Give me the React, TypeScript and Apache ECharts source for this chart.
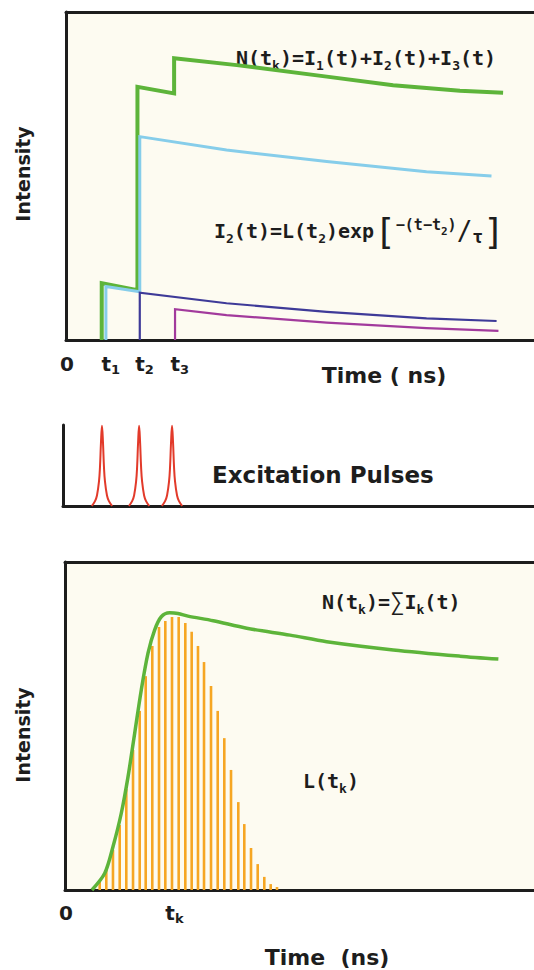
import React, { useEffect, useRef } from "react";
import * as echarts from "echarts";

// ---------------- data (time in arbitrary ns units, intensity 0-100) ----------------
// Top panel: step excitations and decays
const greenTopX = [7.7, 7.7, 15.4, 15.4, 23.3, 23.3, 36.8, 56.2, 70.5, 84.9, 94.2];
const greenTopY = [0, 17.3, 15.2, 77.2, 75.2, 85.9, 83.8, 80.3, 77.7, 76.0, 75.4];
const cyanX = [8.6, 8.6, 15.9, 15.9, 34.6, 56.2, 77.7, 91.7];
const cyanY = [0, 16.3, 14.7, 62.0, 57.9, 54.4, 51.3, 50.0];
const blueX = [15.9, 15.9, 34.6, 56.2, 77.7, 92.8];
const blueY = [0, 14.4, 11.2, 8.6, 6.6, 5.8];
const purpleX = [23.5, 23.5, 34.6, 56.2, 77.7, 93.2];
const purpleY = [0, 9.4, 7.6, 5.3, 3.6, 2.8];

// Tick labels of the top panel (base, subscript) and their times
const topTickLabels: [string, string][] = [["0", ""], ["t", "1"], ["t", "2"], ["t", "3"]];
const topTickTimes = [0, 8.6, 15.9, 23.5];

// Middle panel: excitation pulses (centres) and the pulse profile
const pulseCentres = [8.4, 16.4, 23.5];
const pulseOffsets = [-2.2, -1.5, -1.08, -0.65, -0.43, -0.22, 0, 0.22, 0.43, 0.65, 1.08, 1.5, 2.2];
const pulseHeights = [0, 0.06, 0.13, 0.3, 0.48, 0.78, 0.99, 0.78, 0.48, 0.3, 0.13, 0.06, 0];

// Bottom panel: lamp profile L(tk) bars and measured curve N(tk)
const barTimes = [7.48, 8.9, 10.34, 11.79, 13.21, 14.66, 16.1, 17.39, 18.81, 20.26, 21.62, 23.06, 24.5, 25.93,
  27.3, 28.66, 29.96, 31.47, 32.91, 34.33, 35.78, 37.35, 38.64, 40.09, 41.53, 42.95, 44.33, 45.69];
const barValues = [2.7, 6.1, 12.2, 19.8, 30.8, 42.7, 54.6, 65.2, 74.4, 80.2, 82.0, 83.2, 83.2, 81.4,
  78.7, 74.4, 69.5, 62.2, 54.6, 46.3, 36.6, 26.8, 20.1, 12.8, 7.9, 4.0, 1.8, 0.9];
const curveX = [5.8, 8.56, 10.34, 12.13, 13.58, 15.02, 16.44, 17.89, 19.33, 20.75, 22.56, 24.35, 26.5,
  31.96, 39.16, 48.5, 56.4, 70.75, 85.1, 93.4];
const curveY = [0, 5.1, 13.2, 23.4, 34.5, 47.8, 61.0, 72.2, 79.3, 83.3, 84.5, 84.3, 83.5,
  82.1, 79.8, 77.7, 75.7, 73.2, 71.3, 70.4];
const bottomTickLabels: [string, string][] = [["0", ""], ["t", "k"]];
const bottomTickTimes = [0, 22.6];

// ---------------- styles / layout ----------------
const PX = 4.64; // pixels per time unit
const INK = "#1d1d1d";
const CREAM = "#fdfbf1";
const GREEN = "#5db43a";
const CYAN = "#86cdea";
const BLUE = "#3e3a98";
const PURPLE = "#a23a9c";
const RED = "#e23a2a";
const ORANGE = "#f6a623";
const SANS = "'DejaVu Sans', sans-serif";
const MONO = "'DejaVu Sans Mono', monospace";

const G0 = { left: 66, top: 12, width: 468, height: 328 };
const G1 = { left: 63, top: 425, width: 471, height: 81 };
const G2 = { left: 65, top: 562, width: 469, height: 328 };

const zip = (xs: number[], ys: number[]) => xs.map((x, i) => [x, ys[i]]);

const rs = (size: number, lh: number, va: string, weight = "bold", family = MONO) => ({
  fontFamily: family, fontSize: size, fontWeight: weight, lineHeight: lh, verticalAlign: va, fill: INK,
});

const eqRich = {
  m: rs(20, 28, "middle"),
  s: rs(13, 13, "bottom"),
  b: rs(36, 28, "middle", "normal"),
  p: rs(15, 17, "top"),
  ps: rs(11, 11, "middle"),
  sl: rs(26, 28, "middle", "normal"),
  tau: rs(18, 20, "bottom"),
  sum: rs(24, 28, "middle", "normal"),
};

const tickRich = {
  m: rs(20, 24, "middle", "bold", SANS),
  s: rs(13, 13, "bottom", "bold", SANS),
};

function axisX(gridIndex: number, width: number, position: "top" | "bottom", show = true) {
  return {
    type: "value", gridIndex, position, min: 0, max: width / PX,
    axisLine: { show, onZero: false, lineStyle: { color: INK, width: 3 } },
    axisTick: { show: false }, axisLabel: { show: false }, splitLine: { show: false },
  };
}
function axisY(gridIndex: number, max: number) {
  return {
    type: "value", gridIndex, min: 0, max,
    axisLine: { show: true, onZero: false, lineStyle: { color: INK, width: 3 } },
    axisTick: { show: false }, axisLabel: { show: false }, splitLine: { show: false },
  };
}

function line(data: number[][], color: string, width: number, xAxisIndex: number, yAxisIndex: number, smooth: any = false, z = 3) {
  return {
    type: "line", data, xAxisIndex, yAxisIndex, symbol: "none", smooth, z,
    lineStyle: { color, width, join: "miter" }, itemStyle: { color },
  };
}

function textEl(text: string, x: number, y: number, size: number, align = "left", rotation = 0, family = SANS) {
  return {
    type: "text", x, y, rotation, silent: true,
    style: {
      text, fill: INK, fontFamily: family, fontSize: size, fontWeight: "bold",
      align, verticalAlign: "middle", textAlign: align, textVerticalAlign: "middle",
    },
  };
}
function richEl(text: string, rich: any, x: number, y: number) {
  return {
    type: "text", x, y, silent: true,
    style: { text, rich, fill: INK, align: "left", verticalAlign: "middle", textAlign: "left", textVerticalAlign: "middle" },
  };
}

export default function App() {
  const ref = useRef<HTMLDivElement>(null);
  useEffect(() => {
    const chart = echarts.init(ref.current!, null, { renderer: "svg" });
    const pulseSeries = pulseCentres.map((c) =>
      line(pulseOffsets.map((o, i) => [c + o, pulseHeights[i]]), RED, 2, 2, 1, 0.4)
    );
    chart.setOption({
      animation: false,
      backgroundColor: "#ffffff",
      grid: [
        { ...G0, show: true, backgroundColor: CREAM, borderWidth: 0 },
        { ...G1 },
        { ...G2, show: true, backgroundColor: CREAM, borderWidth: 0 },
      ],
      xAxis: [
        axisX(0, G0.width, "bottom"),
        axisX(0, G0.width, "top"),
        axisX(1, G1.width, "bottom"),
        axisX(2, G2.width, "bottom"),
        axisX(2, G2.width, "top"),
      ],
      yAxis: [axisY(0, 100), axisY(1, 1), axisY(2, 100)],
      series: [
        line(zip(greenTopX, greenTopY), GREEN, 4, 0, 0, false, 3),
        line(zip(cyanX, cyanY), CYAN, 3, 0, 0, false, 4),
        line(zip(blueX, blueY), BLUE, 2.2, 0, 0, false, 5),
        line(zip(purpleX, purpleY), PURPLE, 2.2, 0, 0, false, 5),
        ...pulseSeries,
        {
          type: "bar", xAxisIndex: 3, yAxisIndex: 2, barWidth: 2.6, z: 2,
          data: zip(barTimes, barValues), itemStyle: { color: ORANGE },
        },
        line(zip(curveX, curveY), GREEN, 3.5, 3, 2, 0.3, 4),
      ],
    });

    const tickEls: any[] = [];
    const addTicks = (labels: [string, string][], times: number[], axisIndex: number, y: number) => {
      labels.forEach(([base, sub], i) => {
        const px = chart.convertToPixel({ xAxisIndex: axisIndex }, times[i]) as number;
        const text = sub ? `{m|${base}}{s|${sub}}` : `{m|${base}}`;
        tickEls.push(richEl(text, tickRich, px - (base === "0" ? 6 : 4.5), y));
      });
    };
    addTicks(topTickLabels, topTickTimes, 0, 364);
    addTicks(bottomTickLabels, bottomTickTimes, 3, 913);

    chart.setOption({
      graphic: [
        textEl("Intensity", 23, 174, 19, "center", Math.PI / 2),
        textEl("Intensity", 23, 735, 19, "center", Math.PI / 2),
        textEl("Time ( ns)", 384, 375, 22, "center"),
        textEl("Time  (ns)", 327, 957, 22, "center"),
        textEl("Excitation Pulses", 212, 475, 23, "left"),
        richEl("{m|N(t}{s|k}{m|)=I}{s|1}{m|(t)+I}{s|2}{m|(t)+I}{s|3}{m|(t)}", eqRich, 236, 58),
        richEl("{m|I}{s|2}{m|(t)=L(t}{s|2}{m|)exp}{b|[}{p|−(t−t}{ps|2}{p|)}{sl|/}{tau|τ}{b|]}", eqRich, 214, 231),
        richEl("{m|N(t}{s|k}{m|)=}{sum|∑}{m|I}{s|k}{m|(t)}", eqRich, 322, 602),
        richEl("{m|L(t}{s|k}{m|)}", eqRich, 303, 781),
        ...tickEls,
      ],
    });
    return () => chart.dispose();
  }, []);
  return (
    <div
      ref={ref}
      style={{ position: "absolute", left: 0, top: 0, width: 534, height: 970, background: "#fff" }}
    />
  );
}
